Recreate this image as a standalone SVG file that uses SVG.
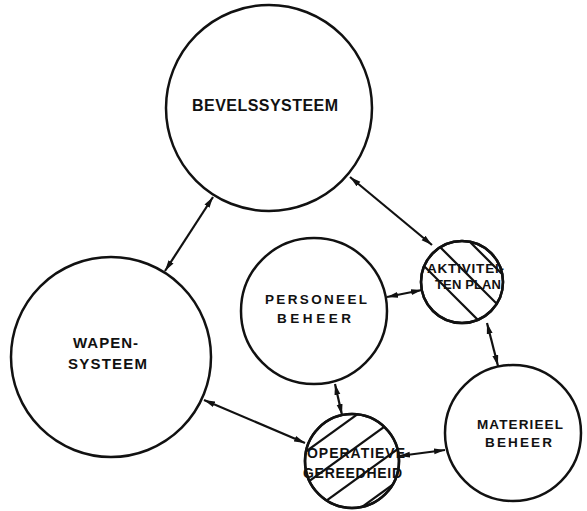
<svg xmlns="http://www.w3.org/2000/svg" width="587" height="511" viewBox="0 0 587 511">
<style>
.node{fill:#fff;stroke:#111;stroke-width:2.5}
.hatch{stroke:#111;stroke-width:2.2}
.lbl{font-family:"Liberation Sans",Arial,sans-serif;font-weight:bold;fill:#111}
.con{stroke:#111;stroke-width:2.2;fill:none;marker-start:url(#ah);marker-end:url(#ah)}
</style>
<defs>
<marker id="ah" viewBox="0 0 10 6" refX="10" refY="3" markerWidth="11" markerHeight="7" markerUnits="userSpaceOnUse" orient="auto-start-reverse">
<path d="M0,0.3 L10,3 L0,5.7 Z" fill="#111"/>
</marker>
<clipPath id="cA"><circle cx="462" cy="282" r="41"/></clipPath>
<clipPath id="cO"><circle cx="352" cy="461" r="47"/></clipPath>
</defs>
<rect width="587" height="511" fill="#fff"/>
<g id="connectors">
<line class="con" x1="213" y1="197" x2="165" y2="271"/>
<line class="con" x1="350" y1="177" x2="432" y2="245"/>
<line class="con" x1="387" y1="297" x2="422" y2="290"/>
<line class="con" x1="487" y1="323" x2="498" y2="366"/>
<line class="con" x1="335" y1="384" x2="342" y2="415"/>
<line class="con" x1="204" y1="400" x2="305" y2="443"/>
<line class="con" x1="445" y1="450" x2="399" y2="456"/>
</g>
<g id="bevelssysteem">
<circle class="node" cx="269" cy="108" r="103"/>
<text class="lbl" x="192" y="111" font-size="16" textLength="146" lengthAdjust="spacing">BEVELSSYSTEEM</text>
</g>
<g id="wapensysteem">
<circle class="node" cx="111" cy="357" r="100"/>
<text class="lbl" x="73" y="348" font-size="15" textLength="65" lengthAdjust="spacing">WAPEN-</text>
<text class="lbl" x="68" y="369" font-size="15" textLength="79" lengthAdjust="spacing">SYSTEEM</text>
</g>
<g id="personeel">
<circle class="node" cx="314" cy="311" r="73"/>
<text class="lbl" x="265" y="304" font-size="13.5" textLength="102" lengthAdjust="spacing">PERSONEEL</text>
<text class="lbl" x="277" y="323" font-size="13.5" textLength="74" lengthAdjust="spacing">BEHEER</text>
</g>
<g id="aktiviteitenplan">
<circle class="node" cx="462" cy="282" r="41"/>
<g clip-path="url(#cA)">
<line class="hatch" x1="380" y1="222" x2="540" y2="382"/>
<line class="hatch" x1="380" y1="187" x2="540" y2="347"/>
<line class="hatch" x1="380" y1="152" x2="540" y2="312"/>
<line class="hatch" x1="380" y1="117" x2="540" y2="277"/>
</g>
<circle cx="462" cy="282" r="41" fill="none" stroke="#111" stroke-width="2.5"/>
<text class="lbl" x="427" y="273" font-size="13.5" textLength="77" lengthAdjust="spacing">AKTIVITEI-</text>
<text class="lbl" x="435" y="289" font-size="13" textLength="66" lengthAdjust="spacing">TEN PLAN</text>
</g>
<g id="operatievegereedheid">
<circle class="node" cx="352" cy="461" r="47"/>
<g clip-path="url(#cO)">
<line class="hatch" x1="290" y1="463" x2="420" y2="369"/>
<line class="hatch" x1="290" y1="495" x2="420" y2="401"/>
<line class="hatch" x1="290" y1="527" x2="420" y2="433"/>
<line class="hatch" x1="290" y1="559" x2="420" y2="465"/>
</g>
<circle cx="352" cy="461" r="47" fill="none" stroke="#111" stroke-width="2.5"/>
<text class="lbl" x="307" y="458" font-size="14" textLength="98" lengthAdjust="spacing">OPERATIEVE</text>
<text class="lbl" x="303" y="478" font-size="14" textLength="99" lengthAdjust="spacing">GEREEDHEID</text>
</g>
<g id="materieel">
<circle class="node" cx="513" cy="433" r="68"/>
<text class="lbl" x="477" y="429" font-size="13.5" textLength="86" lengthAdjust="spacing">MATERIEEL</text>
<text class="lbl" x="485" y="447" font-size="13.5" textLength="67" lengthAdjust="spacing">BEHEER</text>
</g>
</svg>
